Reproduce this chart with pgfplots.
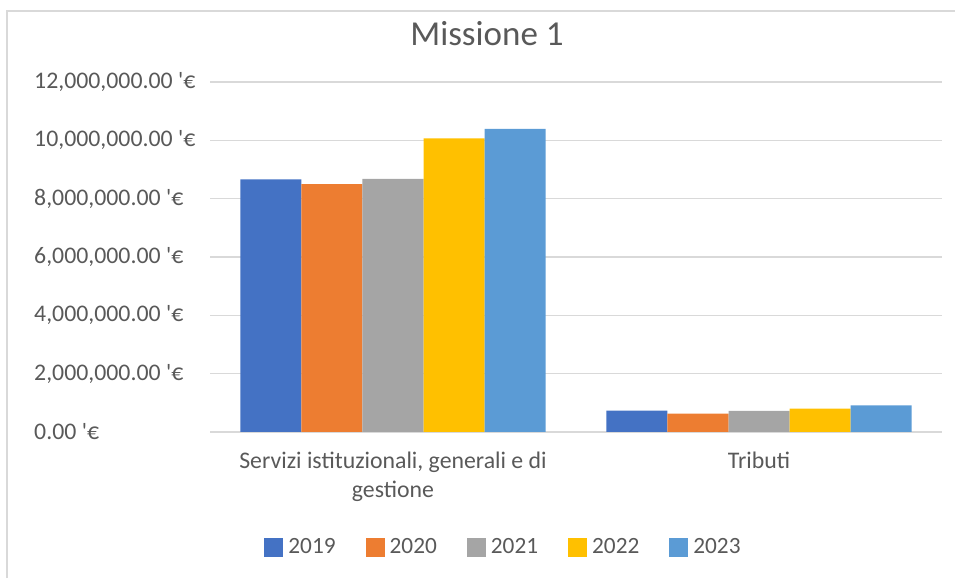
\documentclass[border=0pt]{standalone}
\usepackage{pgfplots}
\pgfplotsset{compat=1.18}
\usepackage{fontspec}
\setmainfont{Carlito}
\definecolor{c19}{HTML}{4472C4}
\definecolor{c20}{HTML}{ED7D31}
\definecolor{c21}{HTML}{A5A5A5}
\definecolor{c22}{HTML}{FFC000}
\definecolor{c23}{HTML}{5B9BD5}
\definecolor{txt}{HTML}{595959}
\definecolor{grd}{HTML}{D9D9D9}
\newcommand{\eur}{\textquotesingle€}
\begin{document}
\begin{tikzpicture}[x=1pt,y=1pt]
\path[use as bounding box] (0,0) rectangle (955,578);
\draw[grd, line width=1.2pt] (7,0) -- (7,567) -- (955,567);
\begin{axis}[
  at={(210pt,146pt)}, anchor=south west,
  scale only axis, width=732pt, height=350pt,
  xmin=-0.5, xmax=1.5, ymin=0, ymax=12000000,
  scaled y ticks=false,
  ybar=0pt, bar width=0.1667,
  axis line style={draw=none},
  ymajorgrids, grid style={grd, line width=1.2pt},
  ytick={0,2000000,4000000,6000000,8000000,10000000,12000000},
  yticklabels={0.00 \eur, {2,000,000.00 \eur}, {4,000,000.00 \eur}, {6,000,000.00 \eur}, {8,000,000.00 \eur}, {10,000,000.00 \eur}, {12,000,000.00 \eur}},
  xtick={0,1},
  xticklabels={{Servizi istituzionali, generali e di\\gestione}, Tributi},
  major tick length=0pt,
  tick label style={font=\fontsize{23.8}{29}\selectfont, text=txt},
  yticklabel style={anchor=west, inner sep=0pt, xshift=-176pt},
  xticklabel style={align=center, anchor=north, inner sep=0pt, yshift=-20pt},
  legend columns=5,
  legend style={at={(0.3996,-0.3286)}, anchor=center, draw=none, fill=none,
    font=\fontsize{23.3}{27}\selectfont, text=txt,
    /tikz/every even column/.append style={column sep=30pt},
    /tikz/every odd column/.append style={column sep=5pt},
    nodes={inner sep=0pt, anchor=west}},
  legend image code/.code={\path[#1, draw=none] (0pt,-9.5pt) rectangle (19pt,9.5pt);},
]
\addplot[fill=c19, draw=none] coordinates {(0,8660000) (1,730000)};
\addplot[fill=c20, draw=none] coordinates {(0,8500000) (1,630000)};
\addplot[fill=c21, draw=none] coordinates {(0,8680000) (1,725000)};
\addplot[fill=c22, draw=none] coordinates {(0,10070000) (1,800000)};
\addplot[fill=c23, draw=none] coordinates {(0,10390000) (1,910000)};
\legend{2019,2020,2021,2022,2023}
\end{axis}
\node[text=txt, font=\fontsize{35}{40}\selectfont, anchor=base] at (487,532) {Missione 1};
\end{tikzpicture}
\end{document}
